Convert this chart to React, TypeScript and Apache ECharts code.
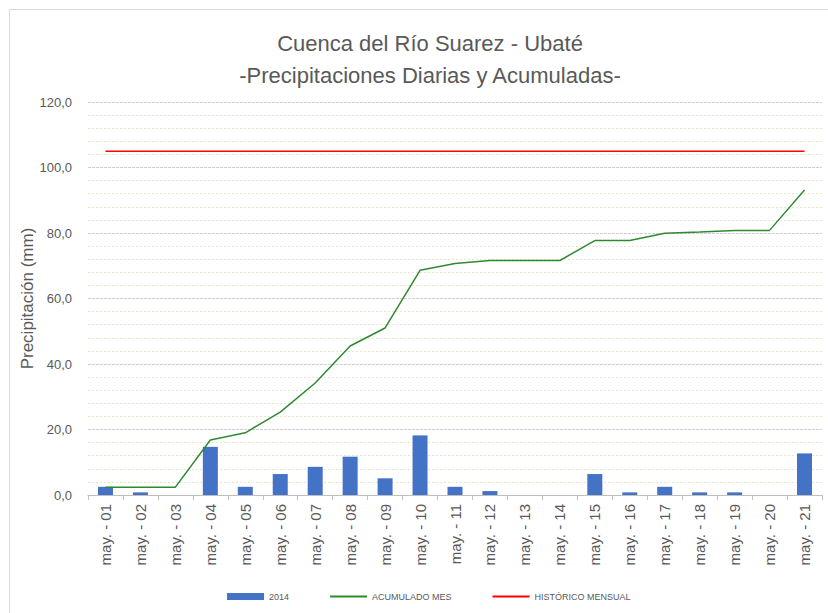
import React, { useEffect, useRef } from "react";
import * as echarts from "echarts";

const categories = [
  "may. - 01", "may. - 02", "may. - 03", "may. - 04", "may. - 05", "may. - 06", "may. - 07",
  "may. - 08", "may. - 09", "may. - 10", "may. - 11", "may. - 12", "may. - 13", "may. - 14",
  "may. - 15", "may. - 16", "may. - 17", "may. - 18", "may. - 19", "may. - 20", "may. - 21",
];
const daily2014 = [2.5, 0.8, 0, 14.7, 2.5, 6.4, 8.6, 11.7, 5.1, 18.2, 2.5, 1.2, 0, 0, 6.4, 0.8, 2.5, 0.8, 0.8, 0, 12.7];
const acumulado = [2.4, 2.4, 2.4, 16.8, 19.0, 25.3, 34.2, 45.5, 51.0, 68.6, 70.7, 71.6, 71.6, 71.6, 77.7, 77.7, 79.9, 80.3, 80.8, 80.8, 93.1];
const historico = categories.map(() => 105);

const FONT = "'Liberation Sans', Arial, sans-serif";

export default function App() {
  const ref = useRef<HTMLDivElement>(null);
  useEffect(() => {
    if (!ref.current) return;
    const chart = echarts.init(ref.current, null, { renderer: "svg" });
    chart.setOption({
      animation: false,
      backgroundColor: "#ffffff",
      textStyle: { fontFamily: FONT },
      title: {
        text: "Cuenca del Río Suarez - Ubaté\n-Precipitaciones Diarias y Acumuladas-",
        left: 425,
        textAlign: "center",
        top: 22,
        textStyle: { fontFamily: FONT, fontSize: 22, fontWeight: "normal", color: "#595959", lineHeight: 32 },
      },
      graphic: [
        {
          type: "rect",
          shape: { x: 9.5, y: 9.5, width: 830, height: 620 },
          style: { fill: "none", stroke: "#d9d9d9", lineWidth: 1 },
          silent: true,
          z: -1,
        },
      ],
      legend: {
        left: 222,
        top: 587,
        itemWidth: 37,
        itemHeight: 7,
        itemGap: 40,
        textStyle: { fontSize: 9, color: "#595959", fontFamily: FONT },
        data: [
          { name: "2014", icon: "rect" },
          { name: "ACUMULADO MES", itemStyle: { opacity: 0 } },
          { name: "HISTÓRICO MENSUAL", itemStyle: { opacity: 0 } },
        ],
      },
      grid: { left: 88, right: 6, top: 102, bottom: 118, containLabel: false },
      xAxis: {
        type: "category",
        data: categories,
        boundaryGap: true,
        axisLine: { show: true, lineStyle: { color: "#bfbfbf", width: 1 } },
        axisTick: { show: true, length: 5, lineStyle: { color: "#bfbfbf" } },
        axisLabel: { rotate: 90, fontSize: 15, color: "#595959", margin: 9, interval: 0, fontFamily: FONT },
      },
      yAxis: {
        type: "value",
        min: 0,
        max: 120,
        interval: 20,
        name: "Precipitación (mm)",
        nameLocation: "middle",
        nameGap: 52,
        nameMoveOverlap: false,
        nameTextStyle: { fontSize: 17, color: "#595959", fontFamily: FONT },
        axisLine: { show: false },
        axisTick: { show: false },
        axisLabel: {
          fontSize: 13,
          color: "#595959",
          margin: 16,
          fontFamily: FONT,
          formatter: (v: number) => v.toFixed(1).replace(".", ","),
        },
        splitLine: { show: true, lineStyle: { color: "#cfcfcf", type: [3, 1], width: 1 } },
        minorTick: { show: false, splitNumber: 5 },
        minorSplitLine: { show: true, lineStyle: { color: "#ece6c8", type: [2, 2], width: 1 } },
      },
      series: [
        {
          name: "2014",
          type: "bar",
          data: daily2014,
          barWidth: 15,
          itemStyle: { color: "#4472c4" },
          z: 2,
        },
        {
          name: "ACUMULADO MES",
          type: "line",
          data: acumulado,
          symbol: "none",
          lineStyle: { color: "#2f8a2f", width: 1.5 },
          itemStyle: { color: "#2f8a2f" },
          z: 3,
        },
        {
          name: "HISTÓRICO MENSUAL",
          type: "line",
          data: historico,
          symbol: "none",
          lineStyle: { color: "#ff0000", width: 1.5 },
          itemStyle: { color: "#ff0000" },
          z: 3,
        },
      ],
    });
    return () => chart.dispose();
  }, []);
  return (
    <div
      ref={ref}
      style={{ position: "fixed", left: 0, top: 0, width: 828, height: 613 }}
    />
  );
}
